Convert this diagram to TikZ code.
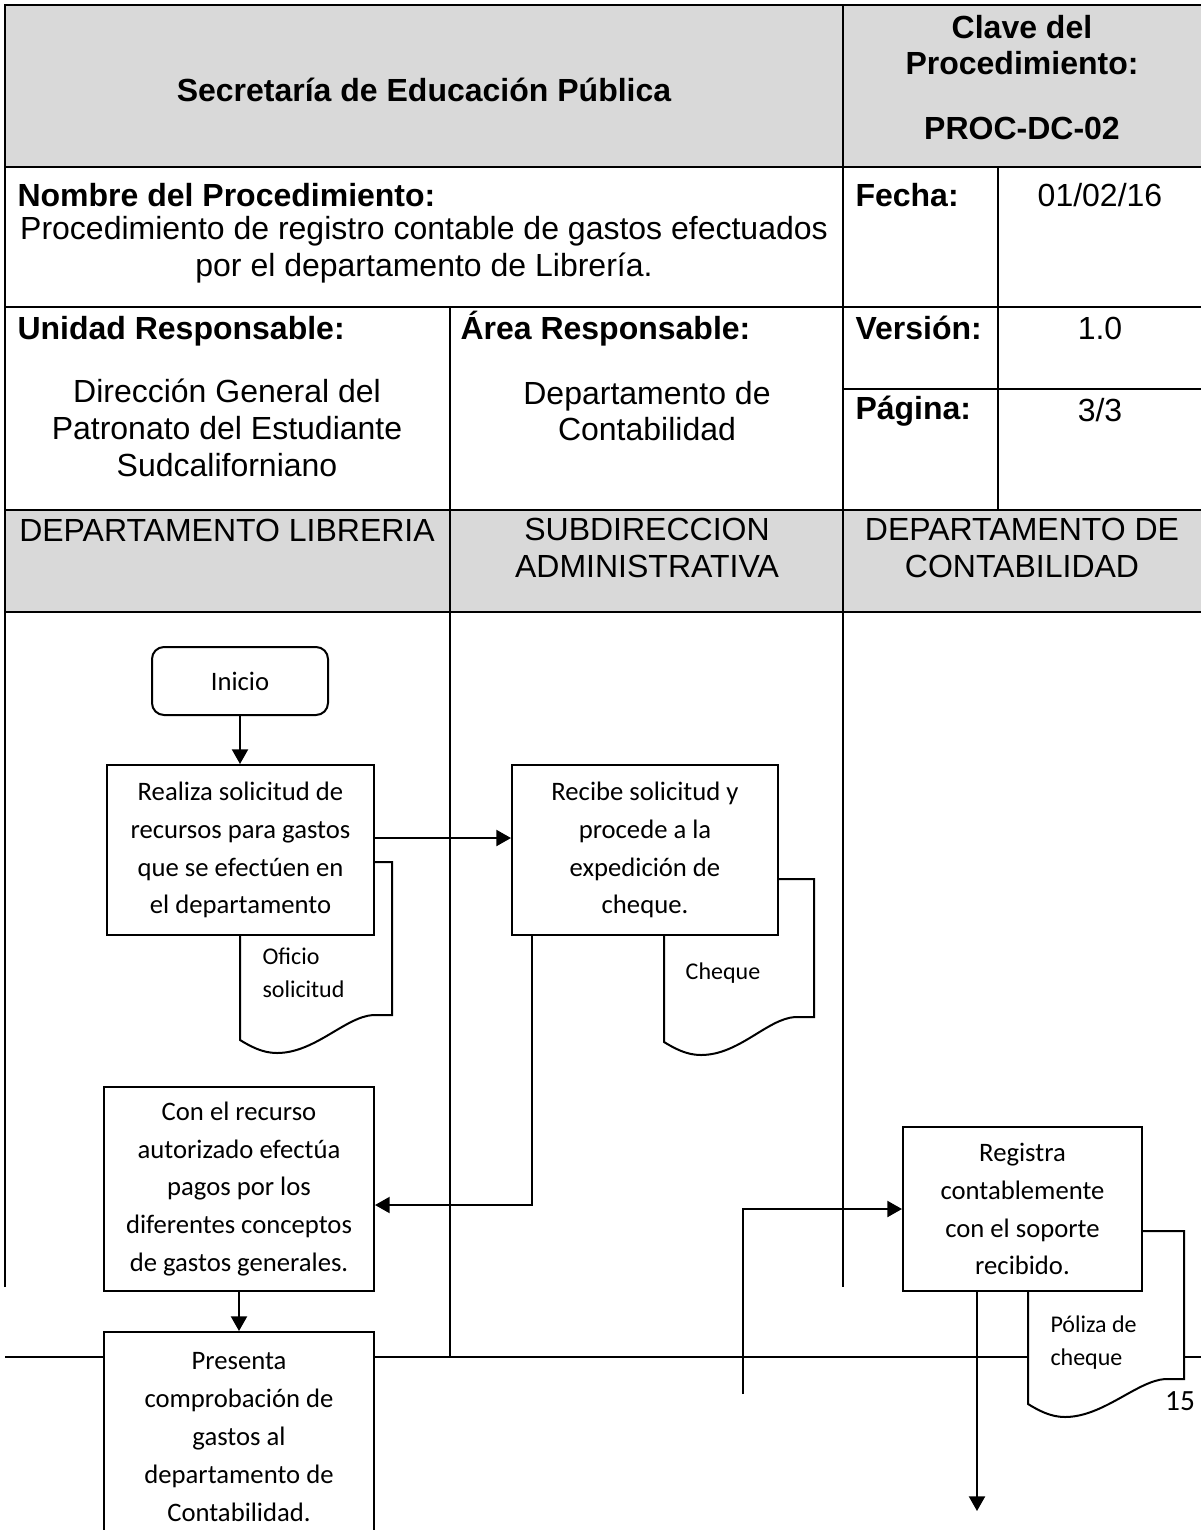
\documentclass[tikz,border=0pt]{standalone}
\usepackage{fontspec}
\setmainfont{Liberation Sans}
\newfontfamily\calibri{Carlito}
\usetikzlibrary{arrows.meta}

\newcommand\upx{0.375pt}
\definecolor{gris}{RGB}{217,217,217}

\newcommand{\documento}[4]{%
\filldraw[hoja] (#1,#2) -- (#3,#2) -- (#3,#4) -- ({#3-19},#4)
  .. controls ({#3-47},{#4+2}) and ({#1+75},{#4+38}) .. ({#1+37},{#4+38})
  .. controls ({#1+22},{#4+38}) and ({#1+10},{#4+31}) .. (#1,{#4+25}) -- cycle;}

\tikzset{
  tabla/.style={line width=0.8pt},
  carril/.style={line width=0.4pt},
  texto/.style={inner sep=0pt,font={\fontsize{12}{13.8}\selectfont}},
  negrita/.style={inner sep=0pt,font={\fontsize{12}{13.8}\selectfont\bfseries}},
  etiqueta/.style={negrita,anchor=base west},
  caja/.style={draw,line width=0.75pt,fill=white,align=center,inner sep=0pt,
    font={\calibri\fontsize{10}{14.2}\selectfont}},
  terminal/.style={caja,rounded corners=4.5pt},
  hoja/.style={draw,line width=0.75pt,fill=white},
  nota/.style={inner sep=0pt,align=left,font={\calibri\fontsize{9}{12.4}\selectfont}},
  flecha/.style={line width=0.8pt,-{Triangle[length=5.5pt,width=6pt]}}
}

\begin{document}
\begin{tikzpicture}[x=\upx,y=-\upx]
\useasboundingbox (0,0) rectangle (1201,1530);

\fill[gris] (5,5) rectangle (1201,167);
\fill[gris] (5,510) rectangle (1201,612);
\draw[tabla] (5,1287) -- (5,5) -- (1201,5);
\foreach \y in {167,307,510,612}
\draw[tabla] (5,\y) -- (1201,\y);
\draw[tabla] (843,5) -- (843,612);
\draw[tabla] (998,167) -- (998,510);
\draw[tabla] (450,307) -- (450,612);
\draw[tabla] (843,389) -- (1201,389);
\draw[carril] (450,612) -- (450,1357);
\draw[carril] (843,612) -- (843,1287);
\draw[carril] (5,1357) -- (1201,1357);

\node[negrita] (titulo) at (424,90) {Secretaría de Educación Pública};
\node[negrita,align=center] (clave) at (1022,45) {Clave del\\Procedimiento:};
\node[negrita] (claveval) at (1022,128) {PROC-DC-02};
\node[etiqueta] (nombre) at (17,206) {Nombre del Procedimiento:};
\node[texto,align=center] (nombreval) at (424,250) {Procedimiento de registro contable de gastos efectuados\\por el departamento de Librería.};
\node[etiqueta] (fecha) at (855,206) {Fecha:};
\node[texto] (fechaval) at (1100,195) {01/02/16};
\node[etiqueta] (unidad) at (17,339) {Unidad Responsable:};
\node[etiqueta] (area) at (460,339) {Área Responsable:};
\node[etiqueta] (version) at (855,339) {Versión:};
\node[texto] (versionval) at (1100,328) {1.0};
\node[etiqueta] (pagina) at (855,419) {Página:};
\node[texto] (paginaval) at (1100,410) {3/3};
\node[texto,align=center] (unidadval) at (227,428) {Dirección General del\\Patronato del Estudiante\\Sudcaliforniano};
\node[texto,align=center] (areaval) at (647,411) {Departamento de\\Contabilidad};
\node[texto] (libreria) at (227,530) {DEPARTAMENTO LIBRERIA};
\node[texto,align=center] (subdireccion) at (647,548) {SUBDIRECCION\\ADMINISTRATIVA};
\node[texto,align=center] (contabilidad) at (1022,548) {DEPARTAMENTO DE\\CONTABILIDAD};

\documento{240}{862}{392}{1015}
\documento{664}{879}{814}{1017}
\documento{1028}{1231}{1184}{1379}
\node[nota,anchor=west] (oficio) at (262,973) {Oficio\\solicitud};
\node[nota] (cheque) at (723,973) {Cheque};
\node[nota,anchor=west] (poliza) at (1050,1343) {Póliza de\\cheque};
\node[inner sep=0pt,font={\calibri\fontsize{11}{13}\selectfont}] (folio) at (1180,1401) {15};

\node[terminal,minimum width=176*\upx,minimum height=68*\upx] (inicio) at (240,681) {Inicio};
\node[caja,minimum width=267*\upx,minimum height=170*\upx] (solicitud) at (240.5,850) {Realiza solicitud de\\recursos para gastos\\que se efectúen en\\el departamento};
\node[caja,minimum width=266*\upx,minimum height=170*\upx] (recibe) at (645,850) {Recibe solicitud y\\procede a la\\expedición de\\cheque.};
\node[caja,minimum width=270*\upx,minimum height=204*\upx] (recurso) at (239,1189) {Con el recurso\\autorizado efectúa\\pagos por los\\diferentes conceptos\\de gastos generales.};
\node[caja,minimum width=270*\upx,minimum height=210*\upx] (presenta) at (239,1437) {Presenta\\comprobación de\\gastos al\\departamento de\\Contabilidad.};
\node[caja,minimum width=239*\upx,minimum height=164*\upx] (registra) at (1022.5,1209) {Registra\\contablemente\\con el soporte\\recibido.};

\coordinate (entrada) at (743,1394);
\coordinate (salida) at (977,1511);

\draw[flecha] (inicio.south) -- (inicio.south |- solicitud.north);
\draw[flecha] ([yshift=4.5pt]solicitud.east) -- ([yshift=4.5pt]solicitud.east -| recibe.west);
\draw[flecha] ([xshift=21*\upx]recibe.south west) |- ([yshift=-6pt]recurso.east);
\draw[flecha] (recurso) -- (presenta);
\draw[flecha] (entrada) |- (registra.west);
\draw[flecha] (registra.south -| salida) -- (salida);

\end{tikzpicture}
\end{document}
